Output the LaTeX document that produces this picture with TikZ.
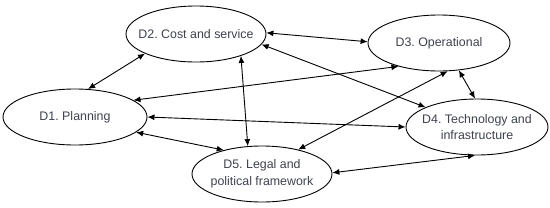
\documentclass[tikz,border=0pt]{standalone}
\usepackage{fontspec}
\setmainfont{Liberation Sans}
\usepackage{tikz}
\usetikzlibrary{shapes.geometric,arrows.meta}
\definecolor{dimtext}{RGB}{62,66,78}
\frenchspacing

\begin{document}
\begin{tikzpicture}[x=1pt,y=-1pt,
  dim/.style={ellipse,draw=black,line width=0.9pt,minimum width=142pt,minimum height=56pt,
    inner xsep=-14pt,inner ysep=0pt,align=center,text=dimtext,font=\fontsize{12.4}{16.5}\selectfont},
  link/.style={{Latex[length=7pt,width=6pt]}-{Latex[length=7pt,width=6pt]},line width=0.9pt}]
  \useasboundingbox (0,0) rectangle (550,207);
  \node[dim,minimum width=144pt] (d1) at (75,117) {D1. Planning};
  \node[dim,minimum width=140pt] (d2) at (196,34) {D2. Cost and service};
  \node[dim] (d3) at (439,43) {D3. Operational};
  \node[dim] (d4) at (477,127) {D4. Technology and\\infrastructure};
  \node[dim,minimum width=140pt] (d5) at (262,174) {D5. Legal and\\political framework};
  \foreach \a/\b in {d1.65/d2.201,d1.16/d3.210,d1.0/d4.180,d1.-14/d5.148,
                     d2.1/d3.179,d2.-9/d4.159,d2.-26/d5.117,
                     d3.-73/d5.34,d3.-54/d4.94,d4.266/d5.1}
    \draw[link] (\a) -- (\b);
\end{tikzpicture}
\end{document}
